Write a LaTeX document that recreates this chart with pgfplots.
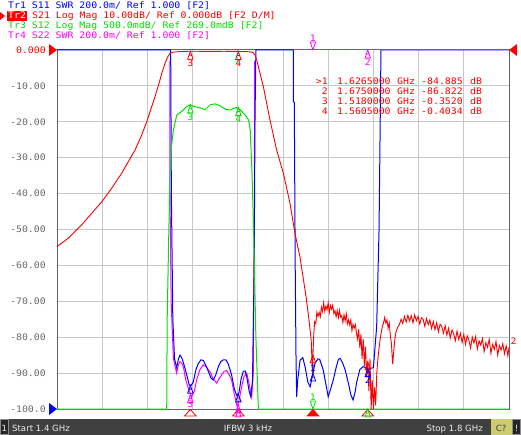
\documentclass[border=0pt]{standalone}
\usepackage{fontspec}
\usepackage{pgfplots}
\pgfplotsset{compat=1.18}
\setmainfont{DejaVu Sans}
\newfontfamily\vna{DejaVu Sans Mono}[FakeStretch=1.1]
\newcommand\vf{\vna\fontsize{9}{10}\selectfont}
\definecolor{trb}{RGB}{0,0,255}
\definecolor{trr}{RGB}{255,0,0}
\definecolor{trg}{RGB}{0,225,0}
\definecolor{trm}{RGB}{255,0,255}
\definecolor{gridc}{RGB}{200,200,200}
\definecolor{framec}{RGB}{100,100,100}
\definecolor{labc}{RGB}{105,105,105}
\definecolor{barc}{RGB}{64,64,64}
\definecolor{cbox}{RGB}{204,204,112}

% marker shapes: tip sits on the data point
\pgfdeclareplotmark{mkup}{%
  \pgfpathmoveto{\pgfqpoint{0pt}{0pt}}%
  \pgfpathlineto{\pgfqpoint{-2.7pt}{-8pt}}%
  \pgfpathlineto{\pgfqpoint{2.7pt}{-8pt}}%
  \pgfpathclose
  \pgfpathmoveto{\pgfqpoint{-1.3pt}{-4pt}}%
  \pgfpathlineto{\pgfqpoint{1.3pt}{-4pt}}%
  \pgfusepathqstroke}
\pgfdeclareplotmark{mkdown}{%
  \pgfpathmoveto{\pgfqpoint{0pt}{0pt}}%
  \pgfpathlineto{\pgfqpoint{-2.7pt}{8pt}}%
  \pgfpathlineto{\pgfqpoint{2.7pt}{8pt}}%
  \pgfpathclose
  \pgfusepathqstroke}
\pgfdeclareplotmark{botup}{%
  \pgfpathmoveto{\pgfqpoint{0pt}{-0.5pt}}%
  \pgfpathlineto{\pgfqpoint{-5.8pt}{-7pt}}%
  \pgfpathlineto{\pgfqpoint{5.8pt}{-7pt}}%
  \pgfpathclose
  \pgfusepathqstroke}
\pgfdeclareplotmark{botupf}{%
  \pgfpathmoveto{\pgfqpoint{0pt}{-0.5pt}}%
  \pgfpathlineto{\pgfqpoint{-5.8pt}{-7pt}}%
  \pgfpathlineto{\pgfqpoint{5.8pt}{-7pt}}%
  \pgfpathclose
  \pgfusepathqfillstroke}
\pgfdeclareplotmark{refR}{%
  \pgfpathmoveto{\pgfqpoint{0pt}{0pt}}%
  \pgfpathlineto{\pgfqpoint{-8pt}{6pt}}%
  \pgfpathlineto{\pgfqpoint{-8pt}{-6pt}}%
  \pgfpathclose
  \pgfusepathqfill}
\pgfdeclareplotmark{refL}{%
  \pgfpathmoveto{\pgfqpoint{0pt}{0pt}}%
  \pgfpathlineto{\pgfqpoint{8pt}{6pt}}%
  \pgfpathlineto{\pgfqpoint{8pt}{-6pt}}%
  \pgfpathclose
  \pgfusepathqfill}

\begin{document}
\begin{tikzpicture}
\path[use as bounding box] (0,0) rectangle (521bp,435bp);
\fill[white] (0,0) rectangle (521bp,435bp);

\begin{axis}[
  at={(57bp,26bp)}, anchor=south west,
  scale only axis, width=452bp, height=359bp,
  xmin=1.4, xmax=1.8, ymin=-100, ymax=0,
  xtick={1.44,1.48,1.52,1.56,1.6,1.64,1.68,1.72,1.76}, xticklabels={},
  ytick={-100,-90,-80,-70,-60,-50,-40,-30,-20,-10,0},
  yticklabels={-100.0,-90.00,-80.00,-70.00,-60.00,-50.00,-40.00,-30.00,-20.00,-10.00,\textcolor{trr}{0.000}},
  yticklabel style={font=\vf, text=labc, anchor=east, inner sep=0pt, xshift=-11bp},
  grid=major, major grid style={gridc, line width=1bp},
  major tick length=0pt,
  axis line style={framec, line width=1bp},
  clip=false,
  every axis plot/.append style={line width=1bp, line join=miter},
]

% Tr4 S22 (passband part)
\addplot[trm, mark=none] coordinates {
(1.4999,-3) (1.5000,-40) (1.5010,-70) (1.5030,-86) (1.5059,-90.0) (1.5075,-87.5)
(1.5089,-86.8) (1.5105,-87.3) (1.5118,-88.2) (1.5140,-92.0) (1.5163,-94.3) (1.5192,-96.6)
(1.5215,-95.0) (1.5236,-91.9) (1.5265,-89.0) (1.5295,-87.7) (1.5320,-88.3) (1.5354,-89.6)
(1.5380,-91.5) (1.5413,-92.8) (1.5435,-91.5) (1.5457,-90.5) (1.5480,-89.5) (1.5501,-89.3)
(1.5525,-90.5) (1.5545,-91.9) (1.5570,-96.0) (1.5595,-99.4) (1.5615,-97.0) (1.5634,-93.8)
(1.5655,-91.0) (1.5679,-90.0) (1.5700,-93.0) (1.5723,-96.6) (1.5737,-90.0) (1.5745,-50)
(1.5750,-3)};

% Tr1 S11
\addplot[trb, mark=none] coordinates {
(1.4000,0) (1.5006,0) (1.5012,-40) (1.5025,-75) (1.5040,-86) (1.5059,-88.5) (1.5075,-86.0)
(1.5089,-85.0) (1.5105,-85.8) (1.5118,-87.0) (1.5148,-90.5) (1.5170,-93.3) (1.5185,-93.5)
(1.5206,-92.5) (1.5230,-89.0) (1.5251,-87.3) (1.5275,-86.3) (1.5295,-86.5) (1.5320,-88.0)
(1.5339,-89.5) (1.5365,-91.5) (1.5383,-91.9) (1.5405,-90.5) (1.5428,-88.2) (1.5450,-86.8)
(1.5472,-86.3) (1.5495,-86.3) (1.5516,-87.5) (1.5545,-90.5) (1.5570,-94.5) (1.5590,-96.2)
(1.5610,-95.5) (1.5630,-91.5) (1.5649,-89.5) (1.5665,-89.4) (1.5679,-91.0) (1.5700,-95.0)
(1.5715,-96.6) (1.5730,-92.0) (1.5745,-60) (1.5752,-20) (1.5760,0) (1.6091,0) (1.6091,-14.4)
(1.6100,-14.6) (1.6108,-60) (1.6115,-85) (1.6121,-96.6) (1.6130,-92.0) (1.6151,-86.4)
(1.6175,-85.7) (1.6195,-88.2) (1.6220,-92.5) (1.6240,-93.8) (1.6262,-90.5) (1.6283,-87.3)
(1.6310,-86.0) (1.6325,-86.2) (1.6355,-89.0) (1.6385,-94.0) (1.6400,-96.6) (1.6425,-94.0)
(1.6445,-91.9) (1.6470,-88.5) (1.6490,-86.2) (1.6505,-85.9) (1.6525,-87.0) (1.6550,-89.1)
(1.6580,-93.0) (1.6600,-96.0) (1.6620,-97.5) (1.6640,-95.0) (1.6650,-92.8) (1.6680,-89.0)
(1.6710,-88.2) (1.6735,-88.5) (1.6770,-88.7) (1.6800,-88.5) (1.6829,-77.0) (1.6850,-50.0)
(1.6867,0) (1.8000,0)};

% Tr4 S22 (clipped at top)
\addplot[trm, mark=none] coordinates {(1.6091,0) (1.8000,0)};

% Tr3 S12
\addplot[trg, mark=none] coordinates {
(1.4000,-100) (1.4971,-100) (1.4975,-75) (1.4990,-50) (1.5000,-35) (1.5012,-27) (1.5030,-22.3)
(1.5060,-18.1) (1.5100,-17.2) (1.5145,-15.8) (1.5175,-15.3) (1.5220,-15.8) (1.5280,-16.2)
(1.5310,-16.7) (1.5355,-15.3) (1.5400,-15.0) (1.5445,-15.6) (1.5490,-16.5) (1.5535,-16.7)
(1.5585,-16.0) (1.5620,-16.6) (1.5665,-18.1) (1.5695,-19.5) (1.5710,-22.3) (1.5725,-33.4)
(1.5740,-50) (1.5760,-80) (1.5782,-100) (1.8000,-100)};

% Tr2 S21
\addplot[trr, mark=none, line width=0.9bp] coordinates {
(1.4000,-54.8) (1.4100,-52.4) (1.4219,-48.7) (1.4307,-45.5) (1.4396,-42.3) (1.4484,-38.5)
(1.4573,-34.3) (1.4631,-31.1) (1.4690,-27.9) (1.4749,-23.7) (1.4794,-20.0) (1.4838,-15.8)
(1.4867,-13.0) (1.4903,-9.3) (1.4927,-6.5) (1.4956,-3.7) (1.4980,-1.9) (1.5000,-0.9)
(1.5030,-0.6) (1.5080,-0.45) (1.5130,-0.38) (1.5180,-0.35) (1.5250,-0.36) (1.5330,-0.40)
(1.5400,-0.37) (1.5480,-0.36) (1.5550,-0.38) (1.5605,-0.40) (1.5660,-0.42) (1.5700,-0.5)
(1.5735,-0.7) (1.5752,-1.4) (1.5767,-2.8) (1.5826,-10.2) (1.5885,-19.5) (1.5944,-27.9)
(1.6003,-34.3) (1.6062,-42.7) (1.6106,-51.1) (1.6150,-57.6) (1.6204,-68.7) (1.6230,-75.2)
(1.6250,-81.0) (1.6260,-90.0) (1.6265,-84.9) (1.6272,-79.5)
(1.628,-75.7) (1.629,-76.2) (1.630,-73.0) (1.631,-74.2) (1.632,-73.1) (1.633,-74.3)
(1.634,-71.6) (1.635,-72.8) (1.636,-70.4) (1.637,-72.8) (1.638,-71.3) (1.639,-72.3)
(1.640,-70.4) (1.641,-73.1) (1.642,-71.2) (1.643,-72.2) (1.644,-71.1) (1.645,-73.4)
(1.646,-72.6) (1.647,-74.3) (1.648,-72.6) (1.649,-74.5) (1.650,-72.5) (1.651,-74.4)
(1.652,-74.0) (1.653,-75.9) (1.654,-73.8) (1.655,-75.5) (1.656,-73.5) (1.657,-76.3)
(1.658,-75.2) (1.659,-76.6) (1.660,-75.2) (1.661,-78.1) (1.662,-76.4) (1.663,-77.5)
(1.664,-76.5) (1.665,-78.8) (1.666,-80.5) (1.667,-77.8) (1.668,-83.0) (1.669,-79.2)
(1.670,-86.0) (1.671,-80.5) (1.672,-88.0) (1.673,-82.6) (1.674,-91.0) (1.675,-86.8)
(1.676,-95.0) (1.677,-86.0) (1.678,-100.0) (1.679,-92.0) (1.680,-100.0) (1.681,-94.0)
(1.682,-99.0) (1.683,-90.0) (1.684,-86.0) (1.685,-83.0) (1.686,-80.5) (1.687,-78.5)
(1.688,-77.0) (1.689,-76.0) (1.690,-74.5) (1.691,-76.0) (1.692,-75.2) (1.693,-77.5)
(1.694,-76.0) (1.695,-79.5) (1.696,-82.0) (1.697,-87.5) (1.698,-84.0) (1.699,-80.5)
(1.700,-78.5) (1.7015,-77.2) (1.703,-76.5) (1.7045,-75.0) (1.706,-76.2) (1.7075,-74.2)
(1.709,-75.8) (1.7105,-73.9) (1.712,-75.5) (1.7135,-74.0) (1.715,-76.0) (1.7165,-73.8)
(1.718,-75.4) (1.7195,-74.2) (1.721,-76.3) (1.7225,-74.6) (1.724,-75.0) (1.7255,-77.0)
(1.727,-74.8) (1.7285,-76.5) (1.730,-75.2) (1.7315,-77.6) (1.733,-75.6) (1.7345,-77.9)
(1.736,-76.0) (1.7375,-78.5) (1.739,-76.4) (1.7405,-77.0) (1.742,-78.9) (1.7435,-76.8)
(1.745,-79.4) (1.7465,-77.5) (1.748,-80.2) (1.7495,-78.0) (1.751,-79.0) (1.7525,-81.0)
(1.754,-78.3) (1.7555,-80.6) (1.757,-78.9) (1.7585,-81.5) (1.760,-79.2) (1.7615,-82.0)
(1.763,-79.6) (1.7645,-80.8) (1.766,-83.0) (1.7675,-80.0) (1.769,-81.6) (1.7705,-79.8)
(1.772,-83.3) (1.7735,-81.0) (1.775,-82.2) (1.7765,-80.4) (1.778,-84.0) (1.7795,-81.5)
(1.781,-82.8) (1.7825,-80.6) (1.784,-84.5) (1.7855,-82.0) (1.787,-83.4) (1.7885,-81.2)
(1.790,-85.0) (1.7915,-82.3) (1.793,-83.6) (1.7945,-81.8) (1.796,-84.6) (1.7975,-82.4)
(1.799,-85.2) (1.800,-82.8)};

% reference position arrows
\addplot[trr, only marks, mark=refR] coordinates {(1.4,0)};
\addplot[trb, only marks, mark=refR] coordinates {(1.4,-100)};
\addplot[trr, only marks, mark=refL] coordinates {(1.8,0)};

% markers on the traces
\addplot[trr, only marks, mark=mkup, line width=0.8bp] coordinates {(1.518,-0.352) (1.5605,-0.4034) (1.6265,-84.885) (1.675,-86.822)};
\addplot[trg, only marks, mark=mkup, line width=0.8bp] coordinates {(1.518,-15.3) (1.5605,-16.0)};
\addplot[trb, only marks, mark=mkup, line width=0.8bp] coordinates {(1.518,-93.4) (1.5605,-95.8) (1.6265,-90.0) (1.675,-88.7)};
\addplot[trm, only marks, mark=mkup, line width=0.8bp] coordinates {(1.518,-96.0) (1.5605,-98.8) (1.675,0)};
\addplot[trm, only marks, mark=mkdown, line width=0.8bp] coordinates {(1.6265,0)};
\addplot[trg, only marks, mark=mkdown, line width=0.8bp] coordinates {(1.6265,-100)};

% marker positions along the bottom edge
\addplot[trr, only marks, mark=botup, line width=0.8bp] coordinates {(1.518,-100) (1.5605,-100) (1.675,-100)};
\addplot[trr, only marks, mark=botupf, line width=0.8bp] coordinates {(1.6265,-100)};
\addplot[trm, only marks, mark=mkup, line width=0.8bp] coordinates {(1.5605,-100)};
\addplot[trg, only marks, mark=mkup, line width=0.8bp] coordinates {(1.675,-100)};

% marker numbers
\begin{scope}[every node/.style={font=\vf, inner sep=0pt}]
\node[text=trr, anchor=north] at (axis cs:1.518,-0.352) [yshift=-8.5bp] {3};
\node[text=trr, anchor=north] at (axis cs:1.5605,-0.4034) [yshift=-8.5bp] {4};
\node[text=trg, anchor=north] at (axis cs:1.518,-15.3) [yshift=-8.5bp] {3};
\node[text=trg, anchor=north] at (axis cs:1.5605,-16.0) [yshift=-8.5bp] {4};
\node[text=trb, anchor=south] at (axis cs:1.6265,-90.0) [yshift=1bp] {1};
\node[text=trb, anchor=north] at (axis cs:1.675,-88.7) [yshift=-8.5bp] {2};
\node[text=trm, anchor=north] at (axis cs:1.518,-96.0) [yshift=-6bp] {3};
\node[text=trm, anchor=south] at (axis cs:1.6265,0) [yshift=8.5bp] {1};
\node[text=trm, anchor=north] at (axis cs:1.675,0) [yshift=-8.5bp] {2};
\node[text=trg, anchor=south] at (axis cs:1.6265,-100) [yshift=8.5bp] {1};
\node[text=trr, anchor=west] at (axis cs:1.8,-81.2) [xshift=1.5bp] {2};
\end{scope}
\end{axis}

% header
\begin{scope}[every node/.style={font=\vf, inner sep=0pt, anchor=base west}]
\node[text=trb] at (8bp,426.5bp) {Tr1 S11 SWR 200.0m/ Ref 1.000 [F2]};
\fill[trr] (7bp,414.3bp) rectangle (27bp,424bp);
\fill[trr] (0bp,423bp) -- (5bp,419bp) -- (0bp,415bp) -- cycle;
\node[text=white] at (8bp,416.7bp) {Tr2};
\node[text=trr] at (32bp,416.7bp) {S21 Log Mag 10.00dB/ Ref 0.000dB [F2 D/M]};
\node[text=trg] at (8bp,406.7bp) {Tr3 S12 Log Mag 500.0mdB/ Ref 269.0mdB [F2]};
\node[text=trm] at (8bp,396.7bp) {Tr4 S22 SWR 200.0m/ Ref 1.000 [F2]};
\end{scope}

% marker table
\begin{scope}[every node/.style={font=\vf, inner sep=0pt, anchor=base west, text=trr}]
\node[anchor=base east] at (328bp,350bp) {>1};
\node[anchor=base east] at (328bp,340bp) {2};
\node[anchor=base east] at (328bp,330bp) {3};
\node[anchor=base east] at (328bp,320.3bp) {4};
\node at (337bp,350bp) {1.6265000};
\node at (337bp,340bp) {1.6750000};
\node at (337bp,330bp) {1.5180000};
\node at (337bp,320.3bp) {1.5605000};
\node at (397bp,350bp) {GHz};
\node at (397bp,340bp) {GHz};
\node at (397bp,330bp) {GHz};
\node at (397bp,320.3bp) {GHz};
\node at (421bp,350bp) {-84.885};
\node at (421bp,340bp) {-86.822};
\node at (421bp,330bp) {-0.3520};
\node at (421bp,320.3bp) {-0.4034};
\node at (470bp,350bp) {dB};
\node at (470bp,340bp) {dB};
\node at (470bp,330bp) {dB};
\node at (470bp,320.3bp) {dB};
\end{scope}

% status bar
\fill[barc] (0,0) rectangle (521bp,16bp);
\draw[black!45, fill=black!85, line width=0.6bp] (0.3bp,0.3bp) rectangle (8.3bp,15.7bp);
\fill[cbox] (490.7bp,0.5bp) rectangle (511.7bp,15.5bp);
\draw[black!45, fill=black!85, line width=0.6bp] (512.6bp,0.3bp) rectangle (520.7bp,15.7bp);
\begin{scope}[every node/.style={font=\fontsize{8.6}{10}\selectfont, inner sep=0pt, text=white!92!black}]
\node[anchor=base] at (4.3bp,3.5bp) {1};
\node[anchor=base west] at (12bp,3.5bp) {Start 1.4 GHz};
\node[anchor=base] at (248bp,3.5bp) {IFBW 3 kHz};
\node[anchor=base east] at (483bp,3.5bp) {Stop 1.8 GHz};
\node[anchor=base, text=barc] at (501.2bp,3.5bp) {C?};
\node[anchor=base] at (516.6bp,3.5bp) {!};
\end{scope}
\end{tikzpicture}
\end{document}
